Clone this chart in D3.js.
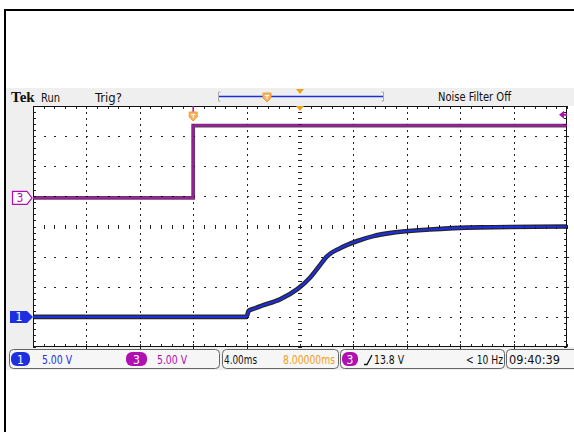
<!DOCTYPE html>
<html><head><meta charset="utf-8">
<script src="https://cdn.jsdelivr.net/npm/d3@7"></script>
<style>
html,body{margin:0;padding:0;background:#fff;}
svg{display:block;}
text{font-family:"Liberation Sans Narrow","DejaVu Sans Condensed","Roboto",sans-serif;}
</style></head>
<body>
<svg id="c" width="574" height="432"></svg>
<script>
// ---- data ----
const ch1Time  = [-12, 4.0, 4.15, 4.6, 5.2, 6.5, 7.8, 8.75, 9.5, 10.0, 11.0, 12.3, 13.5, 14.7, 17.7, 21.5, 28];
const ch1Volts = [0, 0, 1.0, 1.4, 1.9, 2.9, 4.6, 6.5, 8.6, 10.0, 11.4, 12.6, 13.4, 13.9, 14.5, 14.85, 15.0];
const ch3Time  = [-12, 0, 0, 28];
const ch3Volts = [0, 0, 12, 12];
const timeDomain = [-12, 28];       // 4.00 ms/div, 10 divisions
const divDomain = [-4, 4];          // 8 vertical divisions
const voltsPerDiv = 5;
const ch1Offset = -3;               // ground marker position (div)
const ch3Offset = 0.95;
const trigLevel = 13.8;
const headerLabels = ["Run", "Trig?", "Noise Filter Off"];
const statusLabels = ["5.00 V", "5.00 V", "4.00ms", "8.00000ms", "13.8 V", "< 10 Hz", "09:40:39"];

// ---- layout ----
const svg = d3.select("#c");
const L = 33, R = 567, T = 106, B = 347;
const x = d3.scaleLinear().domain(timeDomain).range([L, R]);
const yd = d3.scaleLinear().domain(divDomain).range([B, T]);
const y1 = v => yd(v / voltsPerDiv + ch1Offset);
const y3 = v => yd(v / voltsPerDiv + ch3Offset);
const blue = "#1f2fe0", mag = "#b010b0", orange = "#f0a020";

// helper for condensed text
const txt = (xx, yy, s, w, col, size, anchor) => {
  const t = svg.append("text").attr("x",xx).attr("y",yy).attr("font-size",size||12).attr("fill",col||"#111").text(s);
  if (anchor) t.attr("text-anchor",anchor);
  if (w) t.attr("textLength",w).attr("lengthAdjust","spacingAndGlyphs");
  return t;
};

// backgrounds
svg.append("rect").attr("x",5).attr("y",88).attr("width",569).attr("height",18).attr("fill","#efefef");
svg.append("rect").attr("x",5).attr("y",88).attr("width",28).attr("height",282).attr("fill","#efefef");
svg.append("rect").attr("x",5).attr("y",347).attr("width",569).attr("height",23).attr("fill","#efefef");
svg.append("rect").attr("x",L).attr("y",T).attr("width",R-L).attr("height",B-T).attr("fill","#fff");

// outer frame
svg.append("path").attr("d","M5,432 V10 H574").attr("fill","none").attr("stroke","#000").attr("stroke-width",2);

// ---- graticule ----
const g = svg.append("g").attr("shape-rendering","crispEdges");
const xMinor = d3.range(0, 50.001, 1).map(i => timeDomain[0] + i*(timeDomain[1]-timeDomain[0])/50);
const yMinor = d3.range(0, 40.001, 1).map(i => divDomain[0] + i*0.2);
const xMajor = d3.range(1, 10).map(i => timeDomain[0] + i*4);
const yMajor = d3.range(-3, 4);
xMajor.forEach(t => {
  if (t === 8) return;
  yMinor.forEach(d => g.append("rect").attr("x",Math.round(x(t))).attr("y",Math.round(yd(d))).attr("width",1).attr("height",1.5).attr("fill","#222"));
});
yMajor.forEach(d => {
  if (d === 0) return;
  xMinor.forEach(t => g.append("rect").attr("x",Math.round(x(t))).attr("y",Math.round(yd(d))).attr("width",1.5).attr("height",1).attr("fill","#222"));
});
yMinor.forEach(d => g.append("line").attr("x1",x(8)-2).attr("x2",x(8)+2).attr("y1",Math.round(yd(d))+0.5).attr("y2",Math.round(yd(d))+0.5).attr("stroke","#222"));
xMinor.forEach(t => g.append("line").attr("y1",yd(0)-2).attr("y2",yd(0)+2).attr("x1",Math.round(x(t))+0.5).attr("x2",Math.round(x(t))+0.5).attr("stroke","#222"));
xMinor.forEach(t => {
  const xx = Math.round(x(t))+0.5;
  g.append("line").attr("x1",xx).attr("x2",xx).attr("y1",T).attr("y2",T+3).attr("stroke","#222");
  g.append("line").attr("x1",xx).attr("x2",xx).attr("y1",B-3).attr("y2",B).attr("stroke","#222");
});
yMinor.forEach(d => {
  const yy = Math.round(yd(d))+0.5;
  g.append("line").attr("x1",L).attr("x2",L+3).attr("y1",yy).attr("y2",yy).attr("stroke","#222");
  g.append("line").attr("x1",R-3).attr("x2",R).attr("y1",yy).attr("y2",yy).attr("stroke","#222");
});
g.append("rect").attr("x",L+0.5).attr("y",T+0.5).attr("width",R-L-1).attr("height",B-T-1).attr("fill","none").attr("stroke","#111");

// ---- traces ----
const line1 = d3.line().x((d,i)=>x(ch1Time[i])).y((d,i)=>y1(ch1Volts[i])).curve(d3.curveMonotoneX);
const line3 = d3.line().x((d,i)=>x(ch3Time[i])).y((d,i)=>y3(ch3Volts[i]));
svg.append("path").attr("d",line3(ch3Time)).attr("fill","none").attr("stroke","#000").attr("stroke-width",3.8).attr("opacity",0.7);
svg.append("path").attr("d",line3(ch3Time)).attr("fill","none").attr("stroke",mag).attr("stroke-width",2);
svg.append("path").attr("d",line1(ch1Time)).attr("fill","none").attr("stroke","#000").attr("stroke-width",4.6).attr("opacity",0.85);
svg.append("path").attr("d",line1(ch1Time)).attr("fill","none").attr("stroke",blue).attr("stroke-width",2.2);

// ---- markers ----
const tx = x(0);
svg.append("line").attr("x1",tx).attr("x2",tx).attr("y1",T).attr("y2",T+6).attr("stroke",mag).attr("stroke-width",1.5);
svg.append("path").attr("d",`M${tx-4},${T+6} H${tx+4} V${T+11} L${tx},${T+15} L${tx-4},${T+11} Z`).attr("fill","#f6b26b").attr("stroke",orange);
svg.append("path").attr("d",`M${tx-2},${T+8.5} H${tx+2} M${tx},${T+8.5} V${T+12}`).attr("stroke","#fff").attr("stroke-width",1);
svg.append("path").attr("d",`M${x(8)-4},${T} H${x(8)+4} L${x(8)},${T+5} Z`).attr("fill",orange);
const ty = y3(trigLevel);
svg.append("path").attr("d",`M${R-8},${ty} L${R-3},${ty-4} L${R-3},${ty+4} Z M${R-3},${ty-1} H${R} V${ty+1} H${R-3} Z`).attr("fill",mag);
const m3y = y3(0), m1y = y1(0);
svg.append("path").attr("d",`M12.5,${m3y-6.5} H27 L32,${m3y} L27,${m3y+6.5} H12.5 Z`).attr("fill","#fff").attr("stroke",mag).attr("stroke-width",1.2);
txt(20, m3y+4.5, "3", null, mag, 12, "middle");
svg.append("path").attr("d",`M10,${m1y-6} H27 L33,${m1y} L27,${m1y+6} H10 Z`).attr("fill",blue);
txt(19, m1y+4.5, "1", null, "#fff", 12, "middle");

// ---- header ----
svg.append("text").attr("x",11).attr("y",102).attr("font-weight","bold").attr("font-size",15).attr("fill","#111").style("font-family","'Liberation Serif',serif").text("Tek");
txt(41, 102, headerLabels[0], 19, "#111", 12);
txt(95, 102, headerLabels[1], 27, "#111", 12);
txt(438, 101, headerLabels[2], 73, "#111", 12);
svg.append("line").attr("x1",219).attr("x2",383).attr("y1",96.5).attr("y2",96.5).attr("stroke",blue).attr("stroke-width",1.5);
svg.append("path").attr("d","M220.5,92 H218.5 V101 H220.5 M381.5,92 H383.5 V101 H381.5").attr("fill","none").attr("stroke","#aaa");
svg.append("path").attr("d","M263,93 H271 V98 L267,102 L263,98 Z").attr("fill","#f6b26b").attr("stroke",orange);
svg.append("path").attr("d","M265,95.5 H269 M267,95.5 V99").attr("stroke","#fff");
svg.append("path").attr("d",`M${x(8)-4},89 H${x(8)+4} L${x(8)},94 Z`).attr("fill",orange);

// ---- status bar ----
const box = (x0,x1) => svg.append("rect").attr("x",x0+0.5).attr("y",349.5).attr("width",x1-x0).attr("height",19).attr("rx",4).attr("fill","#f6f6f6").attr("stroke","#666");
box(9,219); box(222,338); box(340,504); box(506,580);
const badge = (x0,w,fill,label) => {
  svg.append("rect").attr("x",x0).attr("y",352).attr("width",w).attr("height",14).attr("rx",6).attr("fill",fill);
  txt(x0+w/2, 363.5, label, null, "#fff", 12, "middle");
};
badge(11,19,blue,"1");
badge(126,21,mag,"3");
badge(342,16,mag,"3");
txt(42, 364, statusLabels[0], 30, blue, 12);
txt(157, 364, statusLabels[1], 30, mag, 12);
txt(224, 364, statusLabels[2], 33, "#111", 12);
txt(283, 364, statusLabels[3], 52, orange, 12);
svg.append("path").attr("d","M364,364.5 H367 L372,355").attr("fill","none").attr("stroke","#111").attr("stroke-width",1.3);
txt(374, 364, statusLabels[4], 30, "#111", 12);
txt(466, 364, statusLabels[5], 37, "#111", 12);
txt(509, 364, statusLabels[6], 51, "#111", 12);
</script>
</body></html>
